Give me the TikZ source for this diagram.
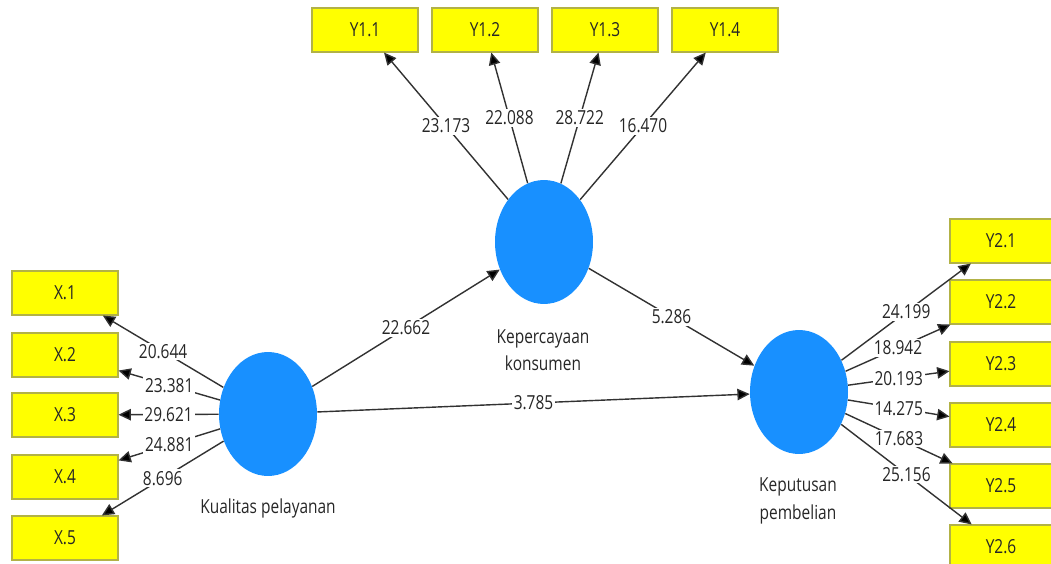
\documentclass[tikz,border=0pt]{standalone}
\usepackage{fontspec}
\setmainfont{Open Sans}[FakeStretch=0.8]
\usepackage{xcolor}
\usepackage{tikz}
\usetikzlibrary{shapes,arrows.meta,positioning,calc}

\definecolor{lvblue}{RGB}{24,144,255}
\definecolor{indyellow}{RGB}{255,255,0}
\definecolor{indborder}{RGB}{178,178,70}
\definecolor{linkgray}{RGB}{50,50,50}

\tikzset{
  latent/.style={ellipse, fill=lvblue, minimum width=1.96cm, minimum height=2.48cm, inner sep=0pt},
  indicator/.style={rectangle, draw=indborder, line width=0.6pt, fill=indyellow, minimum width=2.12cm, minimum height=0.88cm, inner sep=0pt, text=black!85, font=\fontsize{11}{13}\selectfont},
  link/.style={draw=linkgray, line width=0.8pt, -{Triangle[length=7pt,width=6.5pt,fill=black]}},
  coef/.style={fill=white, inner sep=1pt, text=black!85, font=\fontsize{11}{13}\selectfont},
  lvname/.style={align=center, text=black!85, font=\fontsize{11}{15.5}\selectfont}
}

\begin{document}
\begin{tikzpicture}[x=0.02cm, y=-0.02cm]
    \useasboundingbox (0,0) rectangle (1051,564);
    \clip (0,0) rectangle (1051,564);

    % Latent variables
    \node[latent] (kp) at (268,414) {};
    \node[latent] (kk) at (544,242) {};
    \node[latent] (kb) at (799,392) {};
    \node[lvname] (kplabel) at (268,508) {Kualitas pelayanan};
    \node[lvname] (kklabel) at (543,350) {Kepercayaan\\konsumen};
    \node[lvname] (kblabel) at (798,501) {Keputusan\\pembelian};

    % Indicators of Kualitas pelayanan
    \node[indicator] (x1) at (65,293) {X.1};
    \node[indicator] (x2) at (65,355) {X.2};
    \node[indicator] (x3) at (65,415) {X.3};
    \node[indicator] (x4) at (65,477) {X.4};
    \node[indicator] (x5) at (65,538) {X.5};

    % Indicators of Kepercayaan konsumen
    \node[indicator] (ya1) at (365,30) {Y1.1};
    \node[indicator] (ya2) at (485,30) {Y1.2};
    \node[indicator] (ya3) at (605,30) {Y1.3};
    \node[indicator] (ya4) at (725,30) {Y1.4};

    % Indicators of Keputusan pembelian
    \node[indicator, minimum width=2.04cm] (yb1) at (1001,241) {Y2.1};
    \node[indicator, minimum width=2.04cm] (yb2) at (1001,302) {Y2.2};
    \node[indicator, minimum width=2.04cm] (yb3) at (1001,364) {Y2.3};
    \node[indicator, minimum width=2.04cm] (yb4) at (1001,425) {Y2.4};
    \node[indicator, minimum width=2.04cm] (yb5) at (1001,486) {Y2.5};
    \node[indicator, minimum width=2.04cm] (yb6) at (1001,547) {Y2.6};

    % Outer model
    \draw[link] (kp) -- node[coef] {20.644} (x1);
    \draw[link] (kp) -- node[coef] {23.381} (x2);
    \draw[link] (kp) -- node[coef] {29.621} (x3);
    \draw[link] (kp) -- node[coef] {24.881} (x4);
    \draw[link] (kp) -- node[coef] {8.696} (x5);

    \draw[link] (kk) -- node[coef] {23.173} (ya1);
    \draw[link] (kk) -- node[coef] {22.088} (ya2);
    \draw[link] (kk) -- node[coef] {28.722} (ya3);
    \draw[link] (kk) -- node[coef] {16.470} (ya4);

    \draw[link] (kb) -- node[coef] {24.199} (yb1);
    \draw[link] (kb) -- node[coef] {18.942} (yb2);
    \draw[link] (kb) -- node[coef] {20.193} (yb3);
    \draw[link] (kb) -- node[coef] {14.275} (yb4);
    \draw[link] (kb) -- node[coef] {17.683} (yb5);
    \draw[link] (kb) -- node[coef] {25.156} (yb6);

    % Inner model
    \draw[link] (kp) -- node[coef] {22.662} (kk);
    \draw[link] (kk) -- node[coef] {5.286} (kb);
    \draw[link] (kp) -- node[coef] {3.785} (kb);
\end{tikzpicture}
\end{document}
